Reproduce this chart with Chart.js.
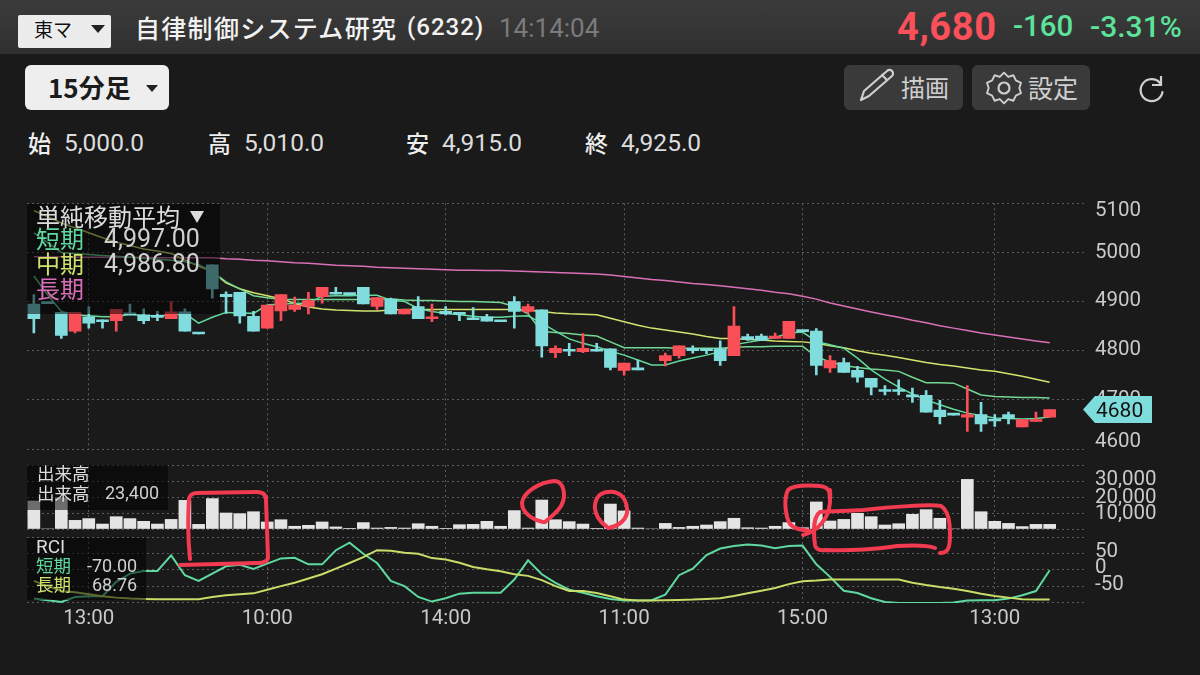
<!DOCTYPE html>
<html lang="ja"><head><meta charset="utf-8">
<script src="https://cdn.jsdelivr.net/npm/chart.js@4"></script>
<style>
html,body{margin:0;padding:0;background:#1a1a1a;width:1200px;height:675px;overflow:hidden}
body{position:relative;font-family:Roboto,"Noto Sans CJK JP",sans-serif;color:#ddd}
canvas{position:absolute;left:0}
.t{position:absolute;white-space:nowrap;line-height:1;transform:translateY(-50%)}
.jp{font-family:"Noto Sans CJK JP",sans-serif}
.abs{position:absolute}
.dim{position:absolute;background:rgba(0,0,0,.52)}
</style></head><body>
<canvas id="mainChart" width="1200" height="270" style="top:190px"></canvas>
<canvas id="volChart" width="1200" height="75" style="top:460px"></canvas>
<canvas id="rciChart" width="1200" height="105" style="top:535px"></canvas>

<div class="abs" style="left:0;top:0;width:1200px;height:54px;background:linear-gradient(#3b3b3b,#303030)"></div>
<div class="abs" style="left:18px;top:15px;width:93px;height:33px;background:#ececec;border-radius:2px"></div>
<div class="t jp" style="left:34px;top:28px;font-size:19px;color:#111">東マ</div>
<div class="abs" style="left:91px;top:25px;border:7px solid transparent;border-top:8px solid #222;border-bottom:0"></div>
<div class="t jp" style="left:135px;top:27px;font-size:25px;letter-spacing:1.3px;color:#f2f2f2;font-weight:500">自律制御システム研究</div>
<div class="t" style="left:407px;top:27px;font-size:24px;letter-spacing:1px;color:#f2f2f2;font-weight:500">(6232)</div>
<div class="t" style="left:499px;top:28px;font-size:26px;color:#7b7b7b">14:14:04</div>
<div class="t" style="left:897px;top:27px;font-size:38px;font-weight:700;color:#f9505a;letter-spacing:.6px">4,680</div>
<div class="t" style="left:1013px;top:27px;font-size:29.5px;font-weight:500;color:#5ce29a">-160</div>
<div class="t" style="left:1090px;top:27px;font-size:30px;font-weight:500;color:#5ce29a">-3.31%</div>

<div class="abs" style="left:25px;top:65px;width:144px;height:45px;background:#eeeeee;border-radius:6px"></div>
<div class="t jp" style="left:48px;top:87px;font-size:26px;font-weight:700;color:#1c1c1c">15分足</div>
<div class="abs" style="left:146px;top:85px;border:6.5px solid transparent;border-top:7px solid #222;border-bottom:0"></div>
<div class="abs" style="left:844px;top:65px;width:119px;height:45px;background:#3a3a3a;border-radius:6px"></div>
<div class="abs" style="left:972px;top:65px;width:118px;height:45px;background:#3a3a3a;border-radius:6px"></div>
<div class="t jp" style="left:901px;top:87px;font-size:24px;color:#cfcfcf">描画</div>
<div class="t jp" style="left:1028px;top:87px;font-size:25px;color:#cfcfcf">設定</div>

<div class="t jp" style="left:28px;top:142px;font-size:23px;color:#eee;font-weight:500">始</div>
<div class="t" style="left:64px;top:143px;font-size:24.5px;color:#ddd">5,000.0</div>
<div class="t jp" style="left:208px;top:142px;font-size:23px;color:#eee;font-weight:500">高</div>
<div class="t" style="left:244px;top:143px;font-size:24.5px;color:#ddd">5,010.0</div>
<div class="t jp" style="left:406px;top:142px;font-size:23px;color:#eee;font-weight:500">安</div>
<div class="t" style="left:442px;top:143px;font-size:24.5px;color:#ddd">4,915.0</div>
<div class="t jp" style="left:585px;top:142px;font-size:23px;color:#eee;font-weight:500">終</div>
<div class="t" style="left:621px;top:143px;font-size:24.5px;color:#ddd">4,925.0</div>

<div class="dim" style="left:27px;top:204px;width:193px;height:110px"></div>
<div class="dim" style="left:27px;top:465px;width:141px;height:45px"></div>
<div class="dim" style="left:27px;top:538px;width:119px;height:62px"></div>

<div class="t jp" style="left:36px;top:216px;font-size:24px;color:#dcdcdc">単純移動平均</div>
<div class="abs" style="left:190px;top:211px;border:7.5px solid transparent;border-top:12px solid #dcdcdc;border-bottom:0"></div>
<div class="t jp" style="left:36px;top:238px;font-size:24px;color:#5fd9a0">短期</div>
<div class="t" style="left:104px;top:238px;font-size:25px;color:#d0d0d0">4,997.00</div>
<div class="t jp" style="left:36px;top:263px;font-size:24px;color:#cfe26c">中期</div>
<div class="t" style="left:104px;top:263px;font-size:25px;color:#d0d0d0">4,986.80</div>
<div class="t jp" style="left:36px;top:288px;font-size:24px;color:#d96fb8">長期</div>

<div class="t jp" style="left:37px;top:473px;font-size:17.5px;color:#dcdcdc">出来高</div>
<div class="t jp" style="left:37px;top:493px;font-size:17.5px;color:#dcdcdc">出来高</div>
<div class="t" style="left:105px;top:493px;font-size:18px;color:#cfcfcf">23,400</div>
<div class="t" style="left:36px;top:546px;font-size:19px;color:#dcdcdc">RCI</div>
<div class="t jp" style="left:36px;top:565px;font-size:17.5px;color:#5fd9a0">短期</div>
<div class="t" style="left:87px;top:566px;font-size:18px;color:#cfcfcf">-70.00</div>
<div class="t jp" style="left:36px;top:584px;font-size:17.5px;color:#cfe26c">長期</div>
<div class="t" style="left:92px;top:585px;font-size:18px;color:#cfcfcf">68.76</div>

<div class="abs" style="left:1083px;top:396px;width:69px;height:27px;background:#7fdcdc;clip-path:polygon(0 50%,12px 0,100% 0,100% 100%,12px 100%)"></div>
<div class="t" style="left:1096px;top:410px;font-size:21px;color:#111">4680</div>

<svg width="1200" height="675" style="position:absolute;left:0;top:0" fill="none">
 <g stroke="#cfcfcf" stroke-width="2.2" stroke-linecap="round" stroke-linejoin="round">
  <path d="M861 100 l3 -9 l23 -20 a3.5 3.5 0 0 1 5 5 l-23 20 l-8 4 z M882 75 l5 5"/>
  <path transform="translate(1004 88) scale(.85) translate(-1004 -88)" d="M1004 70 l5 5 l6 -2 l3 6 l6 3 l-2 6 l2 6 l-6 3 l-3 6 l-6 -2 l-5 5 l-5 -5 l-6 2 l-3 -6 l-6 -3 l2 -6 l-2 -6 l6 -3 l3 -6 l6 2 z"/>
  <circle cx="1004" cy="88" r="5.5"/>
  <path d="M1160 83 a11 11 0 1 0 2.5 9"/>
 </g>
 <path d="M1161 76 v9 h-9" stroke="#cfcfcf" stroke-width="2.2"/>
 <g stroke="#f23a50" stroke-width="4" stroke-linecap="round" stroke-linejoin="round">
  <path d="M190 559 C188 540 188 515 189 499 Q190 493 197 493 L257 492 Q266 492 266 500 L268 558 Q267 563 258 563 L180 565"/>
  <path d="M543 522 C533 520 522 513 522 503 C523 492 540 482 555 481 C565 482 566 498 561 506 C556 514 549 518 545 522"/>
  <path d="M608 528 C616 527 625 522 627 513 C628 504 624 494 614 492 C604 491 596 494 595 505 C594 514 600 522 606 526"/>
  <path d="M830 503 C830 492 830 487 820 486 C805 485 792 486 788 490 C783 500 786 518 790 524 C794 529 802 530 810 531 M830 490 C831 505 829 515 821 524 C815 531 810 533 803 535"/>
  <path d="M940 553 C948 553 950 548 950 535 C950 520 948 511 941 506 C930 504 890 507 863 510 C845 511 830 511 820 512 C814 516 813 530 815 545 Q816 551 825 550 C850 551 880 549 897 546 C915 545 930 546 935 548"/>
 </g>
</svg>

<script>
// ---------- data ----------
const slotCount = 77;
const xTickSlots = [4, 17, 30, 43, 56, 70];
const xTickText = ['13:00', '10:00', '14:00', '11:00', '15:00', '13:00'];

const candleOpen = [4895,4898,4878,4840,4869,4863,4861,4876,4873,4872,4865,4879,4836,4975,4915,4919,4870,4846,4881,4884,4890,4910,4919,4917,4929,4890,4905,4875,4890,4865,4880,4876,4866,4869,4860,4900,4880,4883,4796,4802,4798,4803,4804,4760,4765,null,4780,4790,4805,4803,4804,4790,4829,4830,4825,4825,4841,4840,4765,4776,4760,4744,4720,4720,4710,4709,4679,4671,4665,4670,4661,4670,4645,4656,4665];
const candleHigh = [4914,4898,4878,4878,4890,4863,4884,4895,4885,4880,4900,4885,4836,4975,4920,4919,4880,4893,4914,4909,4919,4929,4929,4917,4929,4908,4907,4884,4910,4895,4890,4878,4888,4874,4860,4910,4895,4883,4810,4815,4835,4815,4804,4775,4781,null,4795,4810,4810,4803,4820,4890,4834,4834,4836,4860,4841,4845,4790,4785,4768,4744,4729,4741,4724,4719,4699,4671,4729,4695,4670,4675,4660,4675,4680];
const candleLow = [4836,4896,4825,4836,4846,4846,4840,4873,4855,4861,4865,4840,4834,4907,4876,4856,4840,4846,4861,4880,4875,4897,4915,4914,4895,4884,4875,4875,4865,4859,4873,4861,4863,4860,4859,4846,4876,4787,4786,4790,4796,4799,4761,4750,4761,null,4769,4785,4795,4794,4770,4790,4821,4821,4825,4825,4839,4751,4756,4756,4736,4710,4710,4710,4695,4675,4651,4669,4636,4636,4646,4651,4645,4656,4665];
const candleClose = [4865,4896,4831,4878,4856,4859,4884,4873,4861,4868,4879,4840,4834,4926,4910,4871,4840,4893,4914,4893,4902,4929,4915,4914,4895,4908,4875,4884,4865,4869,4875,4874,4863,4860,4859,4880,4890,4810,4805,4799,4805,4799,4766,4775,4761,null,4790,4810,4800,4800,4780,4850,4823,4821,4830,4860,4839,4770,4780,4756,4746,4726,4717,4717,4706,4675,4666,4669,4670,4651,4657,4662,4660,4660,4680];

const maFast = [4952,4914,4880,4873,4871,4869,4869,4874,4871,4871,4872,4876,4856,4868,4878,4877,4876,4893,4895,4896,4897,4911,4912,4912,4913,4913,4903,4900,4886,4880,4876,4873,4870,4868,4868,4870,4871,4856,4840,4824,4815,4808,4799,4791,4781,4771,4771,4779,4785,4791,4798,4812,4817,4822,4827,4836,4838,4819,4812,4805,4785,4761,4742,4726,4712,4700,4690,4681,4673,4668,4663,4662,4661,4662,4665];
const maMid = [5040,5020,5000,4998,4996,4994,4992,4990,4988,4986,4984,4981,4975,4961,4940,4926,4912,4908,4904,4904,4904,4904,4904,4904,4904,4905,4905,4903,4902,4902,4901,4900,4900,4899,4898,4890,4875,4839,4837,4835,4832,4830,4818,4806,4806,4806,4806,4805,4805,4805,4805,4807,4808,4808,4809,4809,4809,4788,4777,4770,4766,4763,4761,4758,4746,4735,4735,4734,4722,4710,4707,4706,4705,4705,4704];
const maSlow = [5085,5073,5060,5050,5040,5030,5021,5014,5007,5003,4998,4985,4972,4961,4938,4926,4918,4912,4906,4896,4889,4885,4883,4882,4881,4881,4883,4884,4884,4884,4884,4884,4884,4884,4884,4884,4883,4880,4877,4875,4874,4873,4866,4859,4852,4846,4842,4838,4834,4829,4825,4825,4823,4822,4820,4819,4818,4815,4810,4806,4800,4795,4791,4786,4781,4776,4772,4769,4765,4761,4758,4753,4748,4742,4736];
const maLong = [4991,4991,4991,4990,4990,4990,4990,4990,4990,4989,4989,4989,4989,4989,4987,4986,4984,4983,4981,4979,4978,4976,4974,4973,4972,4970,4969,4968,4967,4966,4965,4964,4964,4963,4963,4962,4961,4960,4959,4958,4957,4956,4954,4951,4948,4945,4943,4940,4937,4935,4932,4929,4926,4923,4919,4916,4911,4905,4897,4891,4885,4879,4873,4868,4862,4857,4851,4846,4841,4836,4832,4828,4824,4820,4816];

const volume = [17500,0,19500,5400,6500,3100,7700,6500,4800,3100,6000,17900,2900,19000,10000,9600,10800,4400,5800,1700,2300,4400,1300,200,4000,600,1000,600,3300,1700,400,2700,2900,4800,1700,11500,600,18100,5800,4600,3100,400,15600,11300,600,0,3500,1000,1700,2500,4600,6700,800,600,1700,4000,800,16900,5000,6000,9800,7700,2500,3300,9200,12100,6700,0,31000,10800,4800,3500,1500,2900,2900];

const rciShort = [-87,-92,-97,-82,-80,-80,-36,-11,-3,-3,44,-16,-33,-11,11,16,3,19,35,37,17,17,60,83,49,21,-33,-49,-82,-96,-86,-72,-69,-69,-69,-29,29,-13,-39,-60,-69,-80,-88,-93,-93,-92,-75,-16,4,45,65,73,77,74,66,73,74,17,-21,-63,-70,-86,-97,-100,-100,-100,-100,-99,-93,-92,-92,-87,-77,-64,-1];
const rciLong = [-33,-49,-64,-68,-74,-80,-84,-87,-88,-89,-89,-89,-89,-82,-77,-74,-71,-60,-49,-39,-26,-13,4,21,39,60,58,52,49,36,32,22,9,2,-4,-13,-18,-31,-49,-64,-64,-70,-80,-90,-93,-93,-92,-91,-90,-88,-86,-79,-71,-63,-55,-43,-34,-32,-29,-29,-29,-29,-29,-29,-39,-46,-52,-57,-64,-72,-79,-84,-89,-90,-90];

const priceTicks = [5100,5000,4900,4800,4700,4600];
const volumeTicks = [10000,20000,30000];
const rciTicks = [50,0,-50];

// ---------- shared helpers ----------
const UP = '#fb4f58', DOWN = '#80dcdd', GRID = '#5c5c5c', TICK = '#c9c9c9';
const tickFont = {family:'Roboto', size:20.5};
const xLabels = Array.from({length:slotCount}, (_, i) => {
  const k = xTickSlots.indexOf(i);
  return k >= 0 ? xTickText[k] : '';
});
function xAxis(showLabels){
  return {
    type:'category', labels:xLabels, offset:true,
    afterBuildTicks:s => { s.ticks = s.ticks.filter(t => xTickSlots.includes(t.value)); },
    afterFit:s => { s.paddingLeft = 0; s.paddingRight = 0; },
    grid:{offset:false, color:GRID, drawTicks:false, lineWidth:1},
    border:{display:false, dash:[2,3]},
    ticks:{display:showLabels, color:TICK, font:tickFont, autoSkip:false, maxRotation:0, padding:4}
  };
}
function yAxis(min, max, step, shown){
  return {
    position:'right', min, max,
    afterFit:s => { s.width = 116; s.paddingTop = 0; s.paddingBottom = 0; },
    afterBuildTicks:s => { s.ticks = []; for (let v = max; v >= min; v -= step) s.ticks.push({value:v}); },
    grid:{color:GRID, drawTicks:false, lineWidth:1},
    border:{display:false, dash:[2,3]},
    ticks:{color:TICK, font:tickFont, padding:11, autoSkip:false,
      callback:v => shown.includes(v) ? (max > 1000 && max < 10000 ? String(v) : v.toLocaleString('en-US')) : ''}
  };
}
// shifts the scale's own y labels the way the reference's are shifted
function labelNudge(table){
  return {id:'labelNudge', beforeDraw(chart){
    const s = chart.scales.y;
    s.getLabelItems(chart.chartArea).forEach(it => {
      if (it.__n) return; it.__n = true;
      const d = table[it.label]; if (d) it.options.translation[1] += d;
    });
  }};
}
function base(){
  return {responsive:false, animation:false, events:[],
    plugins:{legend:{display:false}, tooltip:{enabled:false}}};
}
function line(data, color, order, w){
  return {type:'line', data, borderColor:color, borderWidth:w||1.5, pointRadius:0, tension:0, order, spanGaps:true};
}
const candleColor = candleOpen.map((o, i) => candleClose[i] >= o ? UP : DOWN);

new Chart(document.getElementById('mainChart'), {
  type:'bar',
  data:{labels:xLabels, datasets:[
    {data:candleOpen.map((o, i) => o == null ? null : [o, candleClose[i]]), backgroundColor:candleColor, barThickness:12, grouped:false, minBarLength:2, order:0},
    {data:candleLow.map((l, i) => l == null ? null : [l, candleHigh[i]]), backgroundColor:candleColor, barThickness:2, grouped:false, order:1},
    line(maFast, '#63d99c', 2), line(maMid, '#74d892', 3), line(maSlow, '#d3e46e', 4), line(maLong, '#da70b8', 5)
  ]},
  options:Object.assign(base(), {
    layout:{padding:{left:27, top:13.3, bottom:11, right:0}},
    scales:{x:xAxis(false), y:yAxis(4600, 5100, 100, priceTicks)}
  }),
  plugins:[labelNudge({'5100':8, '5000':0, '4900':-1, '4800':-1, '4700':0, '4600':-7})]
});

new Chart(document.getElementById('volChart'), {
  type:'bar',
  data:{labels:xLabels, datasets:[{data:volume, backgroundColor:'#e4e4e4', barThickness:12}]},
  options:Object.assign(base(), {
    layout:{padding:{left:27, top:5, bottom:6, right:0}},
    scales:{x:xAxis(false), y:yAxis(0, 40000, 10000, volumeTicks)}
  }),
  plugins:[labelNudge({'30,000':-1, '20,000':1, '10,000':1})]
});

new Chart(document.getElementById('rciChart'), {
  type:'line',
  data:{labels:xLabels, datasets:[
    line(rciShort, '#5fd9a0', 1, 2), line(rciLong, '#c8dc68', 0, 2)
  ]},
  options:Object.assign(base(), {
    layout:{padding:{left:27, top:2, bottom:4.5, right:0}},
    scales:{x:xAxis(true), y:yAxis(-100, 100, 50, rciTicks)}
  }),
  plugins:[labelNudge({'50':-2, '0':-2, '-50':-2})]
});
</script>
</body></html>
